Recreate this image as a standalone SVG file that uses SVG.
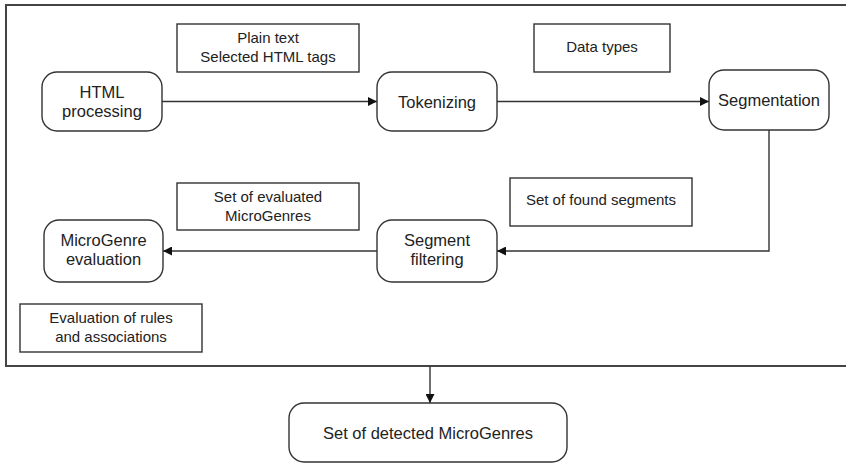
<svg xmlns="http://www.w3.org/2000/svg" width="846" height="463" viewBox="0 0 846 463">
<style>
.frame{fill:none;stroke:#444;stroke-width:2}
.node{fill:#fff;stroke:#333;stroke-width:1.4}
.lbl{fill:#fff;stroke:#333;stroke-width:1.4}
.nt{font-family:"Liberation Sans",Arial,sans-serif;font-size:16.5px;fill:#222;text-anchor:middle}
.lt{font-family:"Liberation Sans",Arial,sans-serif;font-size:15px;fill:#222;text-anchor:middle}
.edge{fill:none;stroke:#333;stroke-width:1.4}
</style>
<defs>
<marker id="ah" viewBox="0 0 10 10" refX="10" refY="5" markerWidth="12" markerHeight="9" markerUnits="userSpaceOnUse" orient="auto">
<path d="M0,0 L10,5 L0,10 z" fill="#111"/>
</marker>
</defs>
<rect width="846" height="463" fill="#fff"/>
<path class="frame" d="M847,5 L6,5 L6,366 L847,366"/>
<g id="connectors">
<line class="edge" x1="162" y1="101.5" x2="377" y2="101.5" marker-end="url(#ah)"/>
<line class="edge" x1="497" y1="101.5" x2="709" y2="101.5" marker-end="url(#ah)"/>
<polyline class="edge" points="769,130 769,251 497,251" marker-end="url(#ah)"/>
<line class="edge" x1="377" y1="251" x2="163" y2="251" marker-end="url(#ah)"/>
<line class="edge" x1="430" y1="366" x2="430" y2="403" marker-end="url(#ah)"/>
</g>
<g id="html-processing">
<rect class="node" x="42" y="72" width="120" height="59" rx="15"/>
<text class="nt" x="102" y="97.5">HTML</text>
<text class="nt" x="102" y="116.5">processing</text>
</g>
<g id="tokenizing">
<rect class="node" x="377" y="72" width="120" height="59" rx="15"/>
<text class="nt" x="437" y="107.5">Tokenizing</text>
</g>
<g id="segmentation">
<rect class="node" x="709" y="70" width="120" height="60" rx="15"/>
<text class="nt" x="769" y="106">Segmentation</text>
</g>
<g id="segment-filtering">
<rect class="node" x="377" y="220" width="120" height="62" rx="15"/>
<text class="nt" x="437" y="246">Segment</text>
<text class="nt" x="437" y="265">filtering</text>
</g>
<g id="microgenre-evaluation">
<rect class="node" x="44" y="220" width="119" height="62" rx="15"/>
<text class="nt" x="103.5" y="246">MicroGenre</text>
<text class="nt" x="103.5" y="265">evaluation</text>
</g>
<g id="detected">
<rect class="node" x="289" y="403" width="278" height="59" rx="15"/>
<text class="nt" x="428" y="439">Set of detected MicroGenres</text>
</g>
<g id="label-plain-text">
<rect class="lbl" x="177" y="24" width="182" height="48"/>
<text class="lt" x="268" y="43">Plain text</text>
<text class="lt" x="268" y="62">Selected HTML tags</text>
</g>
<g id="label-data-types">
<rect class="lbl" x="534" y="24" width="136" height="48"/>
<text class="lt" x="602" y="52">Data types</text>
</g>
<g id="label-found-segments">
<rect class="lbl" x="510" y="178" width="182" height="48"/>
<text class="lt" x="601" y="205">Set of found segments</text>
</g>
<g id="label-evaluated">
<rect class="lbl" x="177" y="183" width="182" height="47"/>
<text class="lt" x="268" y="202">Set of evaluated</text>
<text class="lt" x="268" y="221">MicroGenres</text>
</g>
<g id="label-rules">
<rect class="lbl" x="20" y="304" width="182" height="48"/>
<text class="lt" x="111" y="323">Evaluation of rules</text>
<text class="lt" x="111" y="342">and associations</text>
</g>
</svg>
